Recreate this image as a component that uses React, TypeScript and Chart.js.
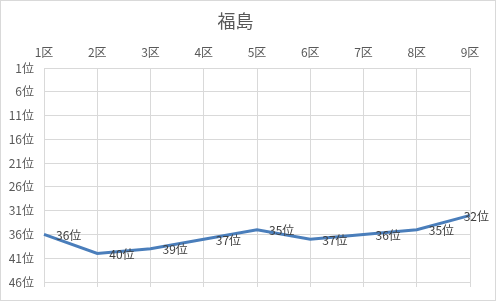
import React, { useEffect, useRef } from "react";
import { Chart, registerables } from "chart.js";

Chart.register(...registerables);

const title = "福島";
const districts = ["1区", "2区", "3区", "4区", "5区", "6区", "7区", "8区", "9区"];
const ranks = [36, 40, 39, 37, 35, 37, 36, 35, 32];
const rankSuffix = "位";

const FONT = "'Noto Sans CJK JP', 'Noto Sans', sans-serif";
const TEXT = "#595959";
const GRID = "#d9d9d9";
const LINE = "#4A7EBB";

const labelPlugin = {
  id: "rankLabels",
  afterDatasetsDraw(chart: any) {
    const ctx = chart.ctx;
    const meta = chart.getDatasetMeta(0);
    ctx.save();
    ctx.font = `12px ${FONT}`;
    ctx.fillStyle = "#404040";
    ctx.textBaseline = "middle";
    ctx.textAlign = "left";
    meta.data.forEach((pt: any, i: number) => {
      const txt = `${ranks[i]}${rankSuffix}`;
      const w = ctx.measureText(txt).width;
      let x = pt.x + 12;
      if (x + w > chart.width - 6) x = chart.width - 6 - w;
      ctx.fillText(txt, x, pt.y + 1);
    });
    ctx.restore();
  },
};

export default function App() {
  const ref = useRef<HTMLCanvasElement>(null);
  useEffect(() => {
    document.body.style.margin = "0";
    const chart = new Chart(ref.current!, {
      type: "line",
      data: {
        labels: districts,
        datasets: [
          {
            data: ranks,
            borderColor: LINE,
            borderWidth: 3,
            pointRadius: 0,
            tension: 0,
            fill: false,
          },
        ],
      },
      options: {
        animation: false,
        responsive: false,
        maintainAspectRatio: false,
        layout: { padding: { left: 0, right: 25, top: 9, bottom: 13 } },
        plugins: {
          legend: { display: false },
          tooltip: { enabled: false },
          title: {
            display: true,
            text: title,
            color: TEXT,
            font: { family: FONT, size: 18, weight: "normal" },
            padding: { top: 0, bottom: 6 },
          },
        },
        scales: {
          x: {
            type: "category",
            position: "top",
            offset: false,
            grid: { color: GRID, drawTicks: false },
            border: { display: false },
            ticks: {
              color: TEXT,
              font: { family: FONT, size: 12 },
              padding: 8,
              maxRotation: 0,
            },
          },
          x2: {
            type: "category",
            position: "bottom",
            offset: false,
            labels: districts,
            grid: { color: GRID, drawOnChartArea: false, drawTicks: true, tickLength: 5 },
            border: { display: false },
            ticks: { display: false },
          },
          y: {
            reverse: true,
            min: 1,
            max: 46,
            afterFit: (s: any) => {
              s.width = 43;
            },
            grid: { color: GRID, drawTicks: false },
            border: { display: false },
            ticks: {
              stepSize: 5,
              color: TEXT,
              font: { family: FONT, size: 12 },
              padding: 10,
              callback: (v: any) => `${v}${rankSuffix}`,
            },
          },
        },
      },
      plugins: [labelPlugin],
    });
    return () => chart.destroy();
  }, []);
  return (
    <div
      style={{
        position: "absolute",
        left: 0,
        top: 0,
        width: 496,
        height: 301,
        border: "1px solid #d9d9d9",
        boxSizing: "border-box",
        background: "#fff",
      }}
    >
      <canvas ref={ref} width={494} height={299} style={{ display: "block" }} />
    </div>
  );
}
